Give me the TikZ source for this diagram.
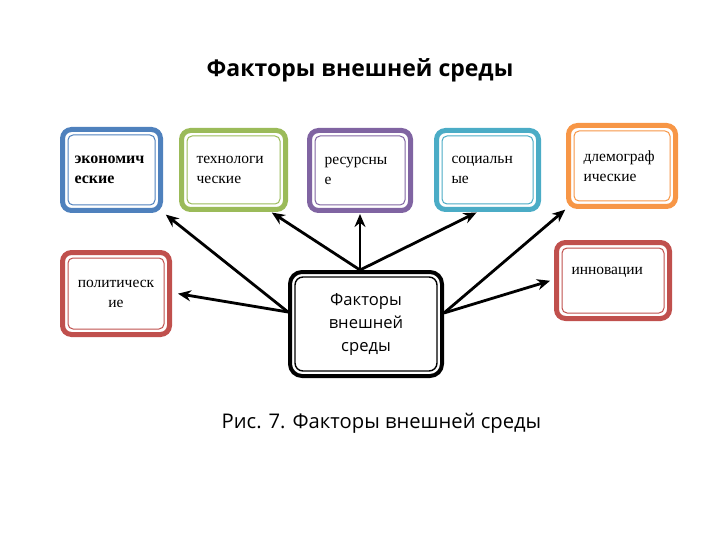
\documentclass[tikz,border=0pt]{standalone}
\usepackage{fontspec}
\setmainfont{Open Sans}
\newfontfamily\boxfont{Liberation Serif}
\usetikzlibrary{arrows.meta, positioning}
\definecolor{ecoblue}{RGB}{79,129,189}
\definecolor{techgreen}{RGB}{155,187,89}
\definecolor{respurple}{RGB}{128,100,162}
\definecolor{socteal}{RGB}{75,172,198}
\definecolor{demorange}{RGB}{247,150,70}
\definecolor{polred}{RGB}{192,80,77}

\begin{document}
\begin{tikzpicture}[
    x=1pt, y=-1pt,
    factorbox/.style  = {draw=#1, line width=5pt, rounded corners=9pt, fill=white,
                         font=\boxfont\fontsize{15.5}{20}\selectfont,
                         inner xsep=15pt, align=left},
    centrebox/.style  = {draw=black, line width=4pt, rounded corners=12pt, fill=white,
                         font=\fontsize{16.6}{23}\selectfont, align=center,
                         minimum width=152pt, minimum height=104pt},
    arr/.style        = {-{Stealth[length=13pt, width=11pt]}, line width=2.8pt,
                         shorten >=1pt},
]
\useasboundingbox (0,0) rectangle (720,540);

% Title and caption
\node[font=\bfseries\fontsize{23}{27}\selectfont] (title) at (360,70) {Факторы внешней среды};
\node[font=\fontsize{20.2}{24}\selectfont] (caption) at (381.5,423) {Рис. 7. Факторы внешней среды};

% Centre
\node[centrebox] (centre) at (366,324) {Факторы\\внешней\\среды};

% Factor boxes, top row
\node[factorbox=ecoblue, inner xsep=12pt, text width=74pt, minimum height=81pt,
      font=\boxfont\bfseries\fontsize{16}{20}\selectfont] (eco) at (111.5,170) {экономич\\еские};
\node[factorbox=techgreen, text width=74pt, minimum height=79pt] (tech) at (233.5,170) {технологи\\ческие};
\node[factorbox=respurple, text width=71pt, minimum height=80pt] (res) at (360,170.5) {ресурсны\\е};
\node[factorbox=socteal, text width=72pt, minimum height=79pt] (soc) at (487.5,170) {социальн\\ые};
\node[factorbox=demorange, text width=77pt, minimum height=81pt] (dem) at (622,166) {длемограф\\ические};

% Factor boxes, side
\node[factorbox=polred, align=center, text width=77pt, minimum height=82pt] (pol) at (116,293.5) {политическ\\ие};
\node[factorbox=polred, text width=83pt, minimum height=76pt] (inn) at (613,280.5) {инновации\\\mbox{}};

% Inner thin lines of the boxes
\foreach \n/\c in {eco/ecoblue, tech/techgreen, res/respurple, soc/socteal,
                   dem/demorange, pol/polred, inn/polred}{
  \draw[\c, line width=1pt, rounded corners=5pt]
    ([shift={(8pt,-8pt)}]\n.north west) rectangle ([shift={(-8pt,8pt)}]\n.south east);
}
\draw[line width=1.4pt, rounded corners=8pt]
  ([shift={(7pt,-7pt)}]centre.north west) rectangle ([shift={(-7pt,7pt)}]centre.south east);

% Arrows
\draw[arr] ([yshift=12pt]centre.west) -- ([shift={(2pt,-1pt)}]eco.south east);
\draw[arr] ([yshift=12pt]centre.west) -- ([xshift=5pt]pol.east);
\draw[arr] ([xshift=-6pt]centre.north) -- ([xshift=-17pt]tech.south east);
\draw[arr] ([xshift=-6pt]centre.north) -- (res.south);
\draw[arr] ([xshift=-6pt]centre.north) -- ([xshift=-10pt]soc.south);
\draw[arr] ([yshift=11pt]centre.east) -- (dem.south west);
\draw[arr] ([yshift=11pt]centre.east) -- ([xshift=-3pt]inn.west);

\end{tikzpicture}
\end{document}
